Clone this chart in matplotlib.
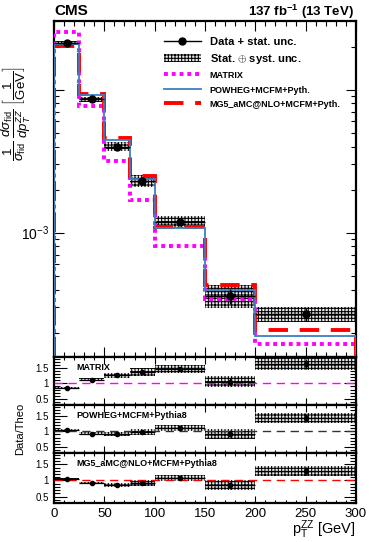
import matplotlib
matplotlib.use("Agg")
import matplotlib.pyplot as plt
import numpy as np
from matplotlib.lines import Line2D
from matplotlib.patches import Patch
from matplotlib.ticker import MultipleLocator

plt.rcParams['font.family'] = ['Liberation Sans', 'DejaVu Sans']
plt.rcParams['mathtext.fontset'] = 'custom'
plt.rcParams['mathtext.rm'] = 'Liberation Sans'
plt.rcParams['mathtext.it'] = 'Liberation Sans:italic'
plt.rcParams['mathtext.bf'] = 'Liberation Sans:bold'
plt.rcParams['hatch.linewidth'] = 0.75

# binning in pT(ZZ) [GeV]
bin_edges = np.array([0, 25, 50, 75, 100, 150, 200, 300])

# normalised differential cross sections [1/GeV]
data = np.array([0.0213, 0.00857, 0.00399, 0.00230, 0.00119, 0.000363, 0.000269])
stat_rel = np.array([0.02, 0.03, 0.04, 0.06, 0.05, 0.12, 0.10])
tot_rel = np.array([0.03, 0.04, 0.07, 0.10, 0.09, 0.18, 0.12])

matrix = np.array([0.0251, 0.00764, 0.00317, 0.00168, 0.000811, 0.000344, 0.000167])
powheg = np.array([0.0207, 0.00922, 0.00443, 0.00237, 0.00108, 0.000395, 0.000188])
mg5 = np.array([0.0203, 0.00932, 0.00459, 0.00247, 0.00110, 0.000427, 0.000207])

theory = [
    ("MATRIX", matrix, "#ff00ff", "MATRIX"),
    ("POWHEG+MCFM+Pyth.", powheg, "#3d7fc1", "POWHEG+MCFM+Pythia8"),
    ("MG5_aMC@NLO+MCFM+Pyth.", mg5, "#ff0000", "MG5_aMC@NLO+MCFM+Pythia8"),
]

centers = 0.5 * (bin_edges[1:] + bin_edges[:-1])
half_w = 0.5 * (bin_edges[1:] - bin_edges[:-1])
widths = bin_edges[1:] - bin_edges[:-1]

W, H = 374, 542
fig = plt.figure(figsize=(W / 100, H / 100), dpi=100)


def ax_rect(top_px, bot_px):
    return [54 / W, 1 - bot_px / H, 302 / W, (bot_px - top_px) / H]


ax = fig.add_axes(ax_rect(21, 357))
rax = [fig.add_axes(ax_rect(357, 405)),
       fig.add_axes(ax_rect(405, 453)),
       fig.add_axes(ax_rect(453, 503))]

hatch_kw = dict(facecolor='#e8e8e8', edgecolor='black', hatch='+++++', linewidth=0)

# ---- main panel
for i in range(len(data)):
    lo = data[i] * (1 - tot_rel[i])
    ax.bar(bin_edges[i], data[i] * 2 * tot_rel[i], width=widths[i], bottom=lo,
           align='edge', zorder=2, **hatch_kw)

ax.stairs(matrix, bin_edges, baseline=1e-6, color='#ff00ff', lw=2.8,
          linestyle=(0, (1, 1)), zorder=3)
ax.stairs(powheg, bin_edges, baseline=1e-6, color='#3d7fc1', lw=1.3, zorder=4)
ax.stairs(mg5, bin_edges, baseline=1e-6, color='#ff0000', lw=2.8,
          linestyle=(0, (5, 3)), zorder=3)
ax.errorbar(centers, data, xerr=half_w, yerr=data * stat_rel, fmt='o',
            color='black', ms=5, lw=1, capsize=0, zorder=5)

ax.set_yscale('log')
ax.set_xlim(0, 300)
ax.set_ylim(1.35e-4, 0.0302)
ax.set_yticks([1e-3, 1e-2], labels=['$10^{-3}$', ''])
ax.tick_params(axis='y', which='major', labelsize=10)
ax.set_xticklabels([])
ax.set_ylabel(r'$\dfrac{1}{\sigma_{\rm fid}}\ \dfrac{d\sigma_{\rm fid}}{dp_T^{ZZ}}\ \left[\dfrac{1}{\rm GeV}\right]$',
              fontsize=9.5)
ax.yaxis.set_label_coords(-0.07, 0.725)

handles = [Line2D([], [], color='black', marker='o', ms=5, lw=1),
           Patch(**hatch_kw),
           Line2D([], [], color='#ff00ff', lw=2.8, linestyle=(0, (1, 1))),
           Line2D([], [], color='#3d7fc1', lw=1.3),
           Line2D([], [], color='#ff0000', lw=2.8, linestyle=(0, (5, 3)))]
labels = ["Data + stat. unc.", r"Stat. $\oplus$ syst. unc."] + [t[0] for t in theory]
leg = ax.legend(handles, labels, loc='upper left', bbox_to_anchor=(0.35, 0.965),
                frameon=False, prop={'weight': 'bold', 'size': 8},
                handlelength=3.3, handletextpad=0.8, labelspacing=0.42,
                borderaxespad=0)
for t in leg.get_texts()[2:]:
    t.set_fontsize(6.5)

fig.text(54 / W, 1 - 11 / H, "CMS", fontsize=11, fontweight='bold', va='center')
fig.text(354 / W, 1 - 12 / H, r"137 fb$^{\mathbf{-1}}$ (13 TeV)", fontsize=9.5,
         fontweight='bold', va='center', ha='right')

# ---- ratio panels
for k, (name, pred, col, long_name) in enumerate(theory):
    a = rax[k]
    r = data / pred
    for i in range(len(data)):
        a.bar(bin_edges[i], r[i] * 2 * tot_rel[i], width=widths[i],
              bottom=r[i] * (1 - tot_rel[i]), align='edge', zorder=2, **hatch_kw)
    lc = col if k != 1 else '#333333'
    a.axhline(1, color=lc, lw=1, linestyle=(0, (6, 4)), zorder=3)
    a.errorbar(centers, r, xerr=half_w, yerr=r * stat_rel, fmt='o', color='black',
               ms=3, lw=0.9, capsize=0, zorder=5)
    a.set_xlim(0, 300)
    a.set_ylim(0.3, 1.85)
    a.set_yticks([0.5, 1, 1.5], labels=['0.5', '1', '1.5'])
    a.yaxis.set_minor_locator(MultipleLocator(0.1))
    a.tick_params(axis='y', labelsize=7)
    a.text(0.075, 0.88, long_name, transform=a.transAxes, fontsize=6.5,
           fontweight='bold', va='top')
    if k < 2:
        a.set_xticklabels([])

rax[1].set_ylabel("Data/Theo", fontsize=8)
rax[1].yaxis.set_label_coords(-0.095, 0.5)
rax[2].tick_params(axis='x', labelsize=9.5)
rax[2].set_xlabel(r"$\mathrm{p}_\mathrm{T}^\mathrm{ZZ}$ [GeV]", fontsize=10.5,
                  loc='right', labelpad=-1)

for a in [ax] + rax:
    a.xaxis.set_major_locator(MultipleLocator(50))
    a.xaxis.set_minor_locator(MultipleLocator(10))
    a.tick_params(which='both', direction='in', top=True, right=True, width=0.8)
    a.tick_params(which='major', length=7)
    a.tick_params(which='minor', length=3.5)
    for s in a.spines.values():
        s.set_linewidth(1.6)
for a in rax:
    a.tick_params(axis='y', which='major', length=9)
    a.tick_params(axis='y', which='minor', length=4)
    a.tick_params(axis='x', which='major', length=5)
    a.tick_params(axis='x', which='minor', length=2.5)

fig.savefig("out.png", dpi=100)
